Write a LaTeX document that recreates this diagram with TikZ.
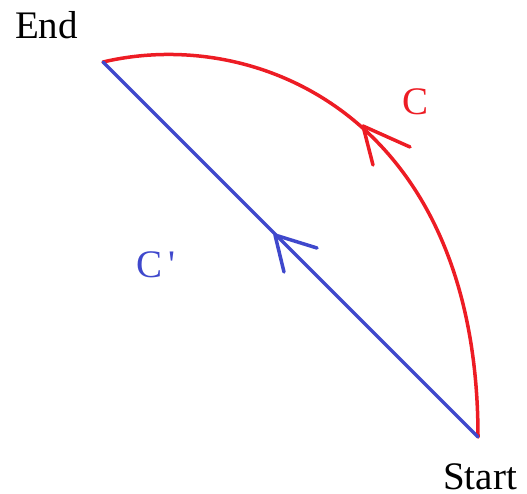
\documentclass[tikz,border=0pt]{standalone}
\usepackage{fontspec}
\setmainfont{Liberation Serif}
\newfontfamily\rawserif[Ligatures=ResetAll]{Liberation Serif}
\definecolor{pred}{RGB}{237,28,36}
\definecolor{pblue}{RGB}{63,72,204}
\begin{document}
\begin{tikzpicture}[x=1pt,y=-1pt,
  curve/.style={line width=3.5pt,line cap=round,line join=round},
  lbl/.style={anchor=base,inner sep=0pt,font=\fontsize{39}{39}\selectfont}]
\useasboundingbox (0,0) rectangle (527,493);
\coordinate (S) at (478,437);
\coordinate (E) at (103,62);
% red curve C
\draw[curve,pred] (S) .. controls (478,120) and (260,25) .. (E);
% blue straight C'
\draw[curve,pblue] (S) -- (E);
% red arrowhead
\coordinate (rt) at (363,126);
\coordinate (ra) at (410,147);
\coordinate (rb) at (373,165);
\draw[curve,pred] (ra) -- (rt) -- (rb);
% blue arrowhead
\coordinate (bt) at (275,235);
\coordinate (ba) at (317,248);
\coordinate (bb) at (284,272);
\draw[curve,pblue] (ba) -- (bt) -- (bb);
% labels
\node[lbl] (endl) at (46.5,38) {End};
\node[lbl] (startl) at (480,489) {Start};
\node[lbl,text=pred] (cl) at (416,114) {C};
\node[lbl,text=pblue] (cpl) at (156,277) {C\,{\rawserif '}};
\end{tikzpicture}
\end{document}
